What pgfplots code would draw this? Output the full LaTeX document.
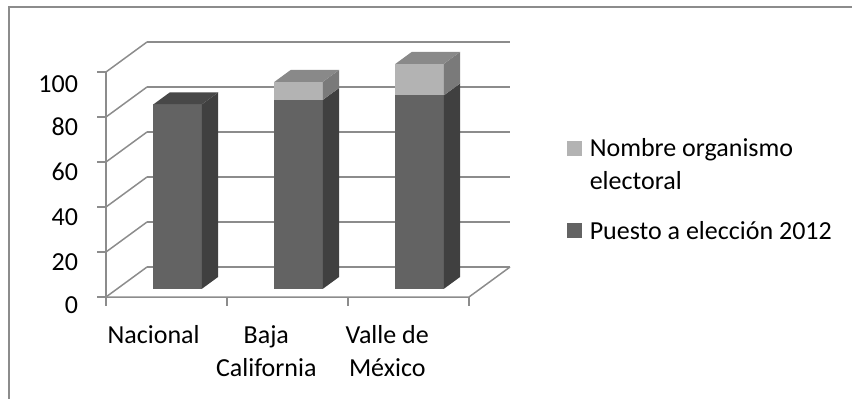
\documentclass[border=0pt]{standalone}
\usepackage{pgfplots}
\pgfplotsset{compat=1.18}
\usepackage{pgfplotstable}
\usepackage{fontspec}
\setmainfont{Carlito}

\definecolor{gridgray}{HTML}{8C8C8C}
\definecolor{darkfront}{HTML}{636363}
\definecolor{darkside}{HTML}{404040}
\definecolor{darktop}{HTML}{484848}
\definecolor{lightfront}{HTML}{B3B3B3}
\definecolor{lightside}{HTML}{7A7A7A}
\definecolor{lighttop}{HTML}{898989}

\newcommand\chartfont{\fontsize{26}{33}\selectfont}
% fixed first-line height so every legend row lines up the same way
\newcommand\legstrut{\rule{0pt}{20pt}}

% stacked values per region: lower block and upper block
\pgfplotstableread{
idx puesto nombre
0   82     0
1   84     8
2   86     14
}\votos

\begin{document}
\begin{tikzpicture}[x=1pt,y=1pt]
\path[use as bounding box] (0,0) rectangle (852,399);
\draw[gridgray, line width=1.5pt] (9,-20) -- (9,392) -- (880,392);
\begin{axis}[
  at={(106pt,102pt)}, anchor=origin,
  x={(121pt,0pt)}, y={(41pt,30pt)}, z={(0pt,2.25pt)},
  xmin=0, xmax=3, ymin=0, ymax=1, zmin=0, zmax=100,
  clip=false,
  axis line style={draw=none},
  no markers,
  ztick={0,20,...,100},
  zmajorgrids,
  major grid style={gridgray, line width=1.5pt},
  xtick={0.5,1.5,2.5},
  xticklabels={Nacional, Baja\\California, Valle de\\México},
  ytick=\empty,
  tick align=outside,
  major tick length=8pt,
  tick style={draw=none},
  tick label style={font=\chartfont, text=black},
  xticklabel style={align=center, yshift=-20pt},
  zticklabel style={xshift=-18pt},
  /pgf/number format/assume math mode=true,
  legend style={draw=none, fill=none, font=\chartfont,
    at={(axis description cs:1.14,0.63)}, anchor=north west,
    inner sep=0pt, row sep=28pt,
    nodes={inner sep=0pt, align=left, anchor=north west},
    /tikz/every odd column/.append style={column sep=8pt}},
  legend cell align=left,
  legend image code/.code={\fill[#1] (0pt,-19pt) rectangle (15pt,-4pt);},
]
% legend swatches
\addlegendimage{fill=lightfront, draw=none}
\addlegendentry{\legstrut Nombre organismo\\electoral}
\addlegendimage{fill=darkfront, draw=none}
\addlegendentry{\legstrut Puesto a elección 2012}

% axis edges along the floor and the front value axis
\draw[gridgray, line width=1.5pt] (axis cs:0,0,0) -- (axis cs:3,0,0) -- (axis cs:3,1,0);
\draw[gridgray, line width=1.5pt] (axis cs:0,0,0) -- (axis cs:0,0,100);
% tick marks: horizontal on the value axis, vertical between categories
\pgfplotsinvokeforeach{0,20,40,60,80,100}{
  \draw[gridgray, line width=1.5pt] (axis cs:0,0,#1) -- ++(-9pt,0pt);
}
\pgfplotsinvokeforeach{0,1,2,3}{
  \draw[gridgray, line width=1.5pt] (axis cs:#1,0,0) -- ++(0pt,-9pt);
}

% columns: front face, right face, top face per block
\pgfplotsinvokeforeach{0,1,2}{
  \pgfplotstablegetelem{#1}{puesto}\of\votos \let\vA=\pgfplotsretval
  \pgfplotstablegetelem{#1}{nombre}\of\votos \let\vB=\pgfplotsretval
  \pgfmathsetmacro\xa{#1+0.3}
  \pgfmathsetmacro\xb{#1+0.7}
  \pgfmathsetmacro\vT{\vA+\vB}
  \pgfmathparse{\vB>0 ? 1 : 0}
  \ifnum\pgfmathresult>0 \def\topcol{lighttop}\else\def\topcol{darktop}\fi
  \edef\drawcolumn{%
    \noexpand\addplot3[forget plot, fill=darkfront, draw=none] coordinates
      {(\xa,0.27,0) (\xb,0.27,0) (\xb,0.27,\vA) (\xa,0.27,\vA)};
    \noexpand\addplot3[forget plot, fill=darkside, draw=none] coordinates
      {(\xb,0.27,0) (\xb,0.67,0) (\xb,0.67,\vA) (\xb,0.27,\vA)};
    \noexpand\addplot3[forget plot, fill=lightfront, draw=none] coordinates
      {(\xa,0.27,\vA) (\xb,0.27,\vA) (\xb,0.27,\vT) (\xa,0.27,\vT)};
    \noexpand\addplot3[forget plot, fill=lightside, draw=none] coordinates
      {(\xb,0.27,\vA) (\xb,0.67,\vA) (\xb,0.67,\vT) (\xb,0.27,\vT)};
    \noexpand\addplot3[forget plot, fill=\topcol, draw=none] coordinates
      {(\xa,0.27,\vT) (\xb,0.27,\vT) (\xb,0.67,\vT) (\xa,0.67,\vT)};
  }\drawcolumn
}
\end{axis}
\end{tikzpicture}
\end{document}
